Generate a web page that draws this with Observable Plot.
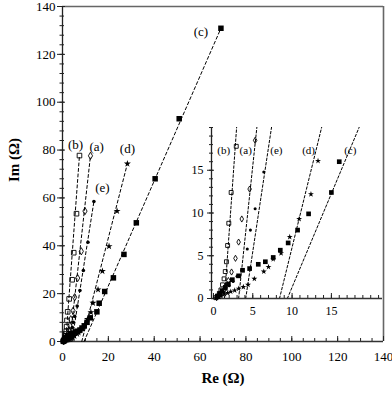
<!DOCTYPE html>
<html><head><meta charset="utf-8">
<script src="https://cdn.jsdelivr.net/npm/d3@7"></script>
<script src="https://cdn.jsdelivr.net/npm/@observablehq/plot@0.6"></script>
<style>
body{margin:0;background:#fff;}
#wrap{position:relative;width:392px;height:400px;}
#main,#inset{position:absolute;}
#main{left:0;top:0;}
#inset{left:190px;top:115px;}
</style></head><body><div id="wrap"><div id="main"></div><div id="inset"></div></div>
<script>
// ---- data (Re, Im in ohm) ----
const seriesNames = ["(a)", "(b)", "(c)", "(d)", "(e)"];
const reA = [12.2, 9.8, 8.2, 6.6, 5.3, 4.6, 3.6, 3.2, 2.8, 2.3, 1.9, 1.6, 1.3, 1.0, 0.7, 0.4];
const imA = [77.6, 54.5, 37.7, 26.5, 18.5, 12.8, 9.3, 6.6, 4.7, 3.1, 2.1, 1.4, 0.9, 0.55, 0.3, 0.1];
const reB = [7.4, 6.1, 4.9, 4.2, 2.9, 2.25, 1.95, 1.8, 1.65, 1.5, 1.35, 1.15, 0.95, 0.75, 0.5, 0.3];
const imB = [77.7, 53.4, 37.1, 25.8, 17.8, 12.4, 8.8, 6.2, 4.3, 3.15, 2.3, 1.6, 1.0, 0.6, 0.3, 0.1];
const reC = [69.1, 50.9, 40.4, 32.2, 26.8, 22.2, 18.4, 16.0, 15.0, 12.1, 10.7, 9.5, 8.5, 7.6, 6.6, 5.7, 4.6, 3.7, 3.2, 2.4, 1.9, 1.5, 1.1, 0.8, 0.5];
const imC = [130.9, 93.1, 68.0, 49.6, 36.4, 26.6, 20.9, 16.0, 12.4, 9.9, 8.0, 6.5, 5.65, 4.8, 4.3, 4.0, 3.5, 3.3, 2.65, 2.2, 1.7, 1.3, 0.9, 0.55, 0.25];
const reD = [28.3, 23.8, 20.3, 17.4, 15.5, 13.3, 12.4, 10.9, 9.7, 8.6, 7.6, 7.0, 6.4, 5.2, 4.4, 3.8, 3.2, 2.7, 2.2, 1.8, 1.4, 1.0, 0.7, 0.4];
const imD = [74.3, 54.5, 39.8, 29.4, 21.7, 16.1, 12.2, 9.3, 7.2, 5.3, 4.6, 3.7, 3.15, 2.3, 1.6, 1.35, 1.15, 0.95, 0.8, 0.65, 0.5, 0.35, 0.2, 0.1];
const reE = [13.7, 11.1, 9.1, 7.6, 6.4, 5.3, 4.7, 4.3, 3.6, 3.0, 2.5, 2.0, 1.6, 1.25, 0.9, 0.6, 0.35];
const imE = [58.5, 41.5, 29.7, 21.3, 14.8, 10.5, 8.0, 5.8, 3.3, 2.6, 2.0, 1.5, 1.1, 0.75, 0.45, 0.25, 0.1];
// x-intercepts (Re at Im = 0) of the dashed straight-line fits
const fitRe0 = [3.2, 1.4, 9.4, 8.4, 4.1];
// tick labels
const reTicks = [0, 20, 40, 60, 80, 100, 120, 140];
const imTicks = [0, 20, 40, 60, 80, 100, 120, 140];
const insetReTicks = [0, 5, 10, 15];
const insetImTicks = [0, 5, 10, 15];
// label anchor points (data units)
const mainLabelRe = [14.9, 5.7, 60.4, 28.3, 17.4];
const mainLabelIm = [81.2, 82.3, 129.3, 80.5, 64.2];
const insetLabelRe = [4.1, 1.3, 17.4, 12.1, 8.0];
const insetLabelIm = [17.3, 17.3, 17.3, 17.3, 17.3];

// ---- build tables ----
const reAll = [reA, reB, reC, reD, reE];
const imAll = [imA, imB, imC, imD, imE];
const rows = seriesNames.flatMap((s, i) => reAll[i].map((r, j) => ({s, re: r, im: imAll[i][j]})));
const fits = seriesNames.flatMap((s, i) => [
  {s, re: fitRe0[i], im: 0},
  {s, re: reAll[i][0], im: imAll[i][0]}
]);
const mainLabels = seriesNames.map((s, i) => ({s, re: mainLabelRe[i], im: mainLabelIm[i]}));
const insetLabels = seriesNames.map((s, i) => ({s, re: insetLabelRe[i], im: insetLabelIm[i]}));

const sym = {"(a)": {symbol: "diamond", fill: "none", stroke: "black", r: 2.2, strokeWidth: 0.9},
             "(b)": {symbol: "square", fill: "none", stroke: "black", r: 2.6, strokeWidth: 0.9},
             "(c)": {symbol: "square", fill: "black", stroke: "none", r: 3.1},
             "(d)": {symbol: "star", fill: "black", stroke: "none", r: 2.2},
             "(e)": {symbol: "circle", fill: "black", stroke: "none", r: 1.8}};

function dotMarks(data, rScale) {
  return seriesNames.map(s => Plot.dot(data.filter(d => d.s === s), {
    x: "re", y: "im", symbol: sym[s].symbol, fill: sym[s].fill, stroke: sym[s].stroke,
    r: sym[s].r * rScale, strokeWidth: sym[s].strokeWidth || 1
  }));
}

const serif = "'Liberation Serif', 'Times New Roman', serif";

// ---- main chart ----
const main = Plot.plot({
  width: 392, height: 400,
  marginLeft: 62, marginRight: 9, marginTop: 6, marginBottom: 59,
  x: {domain: [0, 140], label: null},
  y: {domain: [0, 140], label: null},
  style: {fontFamily: serif, fontSize: "13px", background: "white", color: "black"},
  marks: [
    Plot.ruleY([140], {stroke: "#666", strokeWidth: 1.6}),
    Plot.ruleX([140], {stroke: "#666", strokeWidth: 1.6}),
    Plot.ruleX([0], {stroke: "#222", strokeWidth: 1.3}),
    Plot.ruleY([0], {stroke: "#333", strokeWidth: 1.6}),
    Plot.ruleY(d3.range(0, 141, 4), {x1: 0, x2: 0, insetLeft: -2.5, insetRight: -2, stroke: "#222"}),
    Plot.ruleY(imTicks, {x1: 0, x2: 0, insetLeft: -5, insetRight: -3, stroke: "#222"}),
    Plot.ruleX(d3.range(0, 141, 5), {y1: 0, y2: 0, insetBottom: 3, stroke: "#222"}),
    Plot.ruleX(reTicks, {y1: 0, y2: 0, insetBottom: 5, stroke: "#222"}),
    Plot.axisX({ticks: reTicks, tickSize: 0, tickPadding: 10, fontSize: 13}),
    Plot.axisY({ticks: imTicks, tickSize: 0, tickPadding: 7, fontSize: 13}),
    Plot.line(fits, {x: "re", y: "im", z: "s", stroke: "black", strokeWidth: 1, strokeDasharray: "3,2.5"}),
    ...dotMarks(rows, 1),
    Plot.text(mainLabels, {x: "re", y: "im", text: "s", fontSize: 13, fill: "black"}),
    Plot.text(["Re (Ω)"], {frameAnchor: "bottom", dy: 41, fontSize: 15, fontWeight: "bold"}),
    Plot.text(["Im (Ω)"], {frameAnchor: "left", dx: -48, dy: 8, rotate: -90, fontSize: 15, fontWeight: "bold"})
  ]
});
document.getElementById("main").append(main);

// ---- inset ----
const inset = Plot.plot({
  width: 195, height: 210,
  marginLeft: 21, marginRight: 3, marginTop: 12, marginBottom: 27,
  x: {domain: [-0.25, 21.5], label: null},
  y: {domain: [0, 20], label: null},
  style: {fontFamily: serif, fontSize: "12px", background: "transparent", color: "black", overflow: "visible"},
  marks: [
    Plot.ruleX([-0.25], {stroke: "#222", strokeWidth: 1.3}),
    Plot.ruleY([0], {stroke: "#333", strokeWidth: 1.6}),
    Plot.ruleY(d3.range(0, 21, 1), {x1: -0.25, x2: -0.25, insetLeft: -2, insetRight: -2, stroke: "#222"}),
    Plot.ruleY(insetImTicks, {x1: -0.25, x2: -0.25, insetLeft: -4, insetRight: -3, stroke: "#222"}),
    Plot.ruleX(d3.range(0, 22, 1), {y1: 0, y2: 0, insetBottom: 3, stroke: "#222"}),
    Plot.ruleX(insetReTicks, {y1: 0, y2: 0, insetBottom: 5, stroke: "#222"}),
    Plot.axisX({ticks: insetReTicks, tickSize: 0, tickPadding: 8, fontSize: 12}),
    Plot.axisY({ticks: insetImTicks, tickSize: 0, tickPadding: 8, fontSize: 12}),
    Plot.line(fits, {x: "re", y: "im", z: "s", stroke: "black", strokeWidth: 1, strokeDasharray: "2.5,2", clip: true}),
    ...dotMarks(rows.filter(d => d.re <= 21.5 && d.im <= 20), 0.85),
    Plot.text(insetLabels, {x: "re", y: "im", text: "s", fontSize: 11, fill: "black"})
  ]
});
document.getElementById("inset").append(inset);
</script>
</body></html>
